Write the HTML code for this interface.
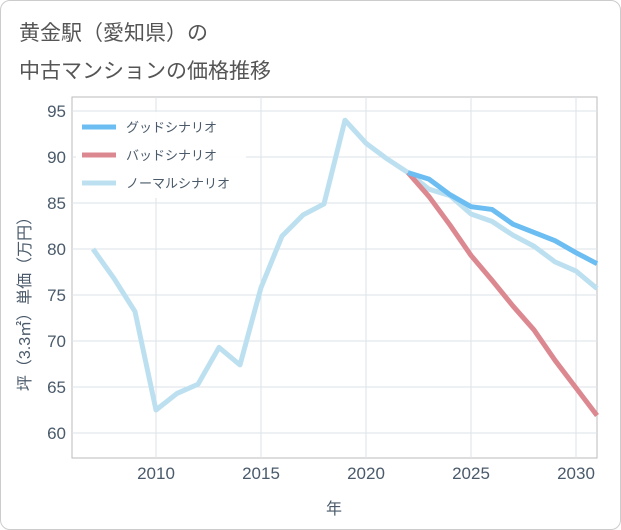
<!DOCTYPE html>
<html><head><meta charset="utf-8"><style>
body{margin:0;background:#fff;}
#wrap{position:relative;width:619px;height:528px;border:1px solid #ccc;border-radius:10px;overflow:hidden;background:#fff;font-family:"Liberation Sans","Noto Sans CJK JP",sans-serif;}
.title{position:absolute;left:18px;font-size:21px;color:#555;}
</style></head><body>
<div id="wrap">
<div class="title" style="top:16px">黄金駅（愛知県）の</div>
<div class="title" style="top:54px">中古マンションの価格推移</div>
<svg id="chart" width="621" height="530" style="position:absolute;left:-1px;top:-1px"></svg>
</div>
<script>
const years=[2007,2008,2009,2010,2011,2012,2013,2014,2015,2016,2017,2018,2019,2020,2021,2022,2023,2024,2025,2026,2027,2028,2029,2030,2031];
const normalValues=[80,76.8,73.2,62.5,64.3,65.3,69.3,67.4,75.8,81.4,83.7,84.9,94,91.5,89.8,88.3,86.5,85.8,83.8,83,81.5,80.3,78.6,77.6,75.7];
const goodYears=[2022,2023,2024,2025,2026,2027,2028,2029,2030,2031];
const goodValues=[88.3,87.6,85.9,84.6,84.3,82.7,81.8,80.9,79.6,78.4];
const badValues=[88.3,85.7,82.6,79.3,76.6,73.8,71.2,67.9,64.9,61.9];
const xTicks=[2010,2015,2020,2025,2030];
const yTicks=[60,65,70,75,80,85,90,95];
const legendLabels=["グッドシナリオ","バッドシナリオ","ノーマルシナリオ"];
const NS="http://www.w3.org/2000/svg";
const svg=document.getElementById('chart');
const L=72,R=597,T=97,B=458;
const x=v=>93+(v-2007)*21;
const y=v=>433-(v-60)*9.2;
function mk(t,a){const e=document.createElementNS(NS,t);for(const k in a)e.setAttribute(k,a[k]);svg.appendChild(e);return e;}
let bg=mk('rect',{x:L,y:T,width:R-L,height:B-T,fill:'#fff',stroke:'#bbb'});


xTicks.forEach(v=>{let g=mk('line',{x1:x(v),x2:x(v),y1:T,y2:B,stroke:'#dde3ea'});


let t=mk('text',{x:x(v),y:479,'text-anchor':'middle','font-size':17,fill:'#4a5a6a'});t.textContent=v;

});
yTicks.forEach(v=>{let g=mk('line',{x1:L,x2:R,y1:y(v),y2:y(v),stroke:'#dde3ea'});


let t=mk('text',{x:66,y:y(v)+6,'text-anchor':'end','font-size':17,fill:'#4a5a6a'});t.textContent=v;

});
let xt=mk('text',{x:334,y:514,'text-anchor':'middle','font-size':16,fill:'#4a5a6a'});xt.textContent='年';


let yt=mk('text',{x:0,y:0,'text-anchor':'middle','font-size':16,fill:'#4a5a6a',transform:'translate(30,300) rotate(-90)'});yt.textContent='坪（3.3㎡）単価（万円）';


function line(xs,vs,c,name){const d=xs.map((v,i)=>(i?'L':'M')+x(v)+','+y(vs[i])).join(' ');
let p=mk('path',{d:d,fill:'none',stroke:c,'stroke-width':5,'stroke-linejoin':'round'});

}
line(years,normalValues,'#bde0f0','normal-scenario-line');
line(goodYears,badValues,'#dc8890','bad-scenario-line');
line(goodYears,goodValues,'#6bbdf2','good-scenario-line');
let lb=mk('rect',{x:76,y:112,width:170,height:86,fill:'#fff',opacity:0.9});


const lc=['#6bbdf2','#dc8890','#bde0f0'];
legendLabels.forEach((s,i)=>{const yy=127+i*28;
let l=mk('line',{x1:82,x2:116,y1:yy,y2:yy,stroke:lc[i],'stroke-width':5});


let t=mk('text',{x:126,y:yy+5,'font-size':13,fill:'#4a5a6a'});t.textContent=s;

});
</script>
</body></html>
